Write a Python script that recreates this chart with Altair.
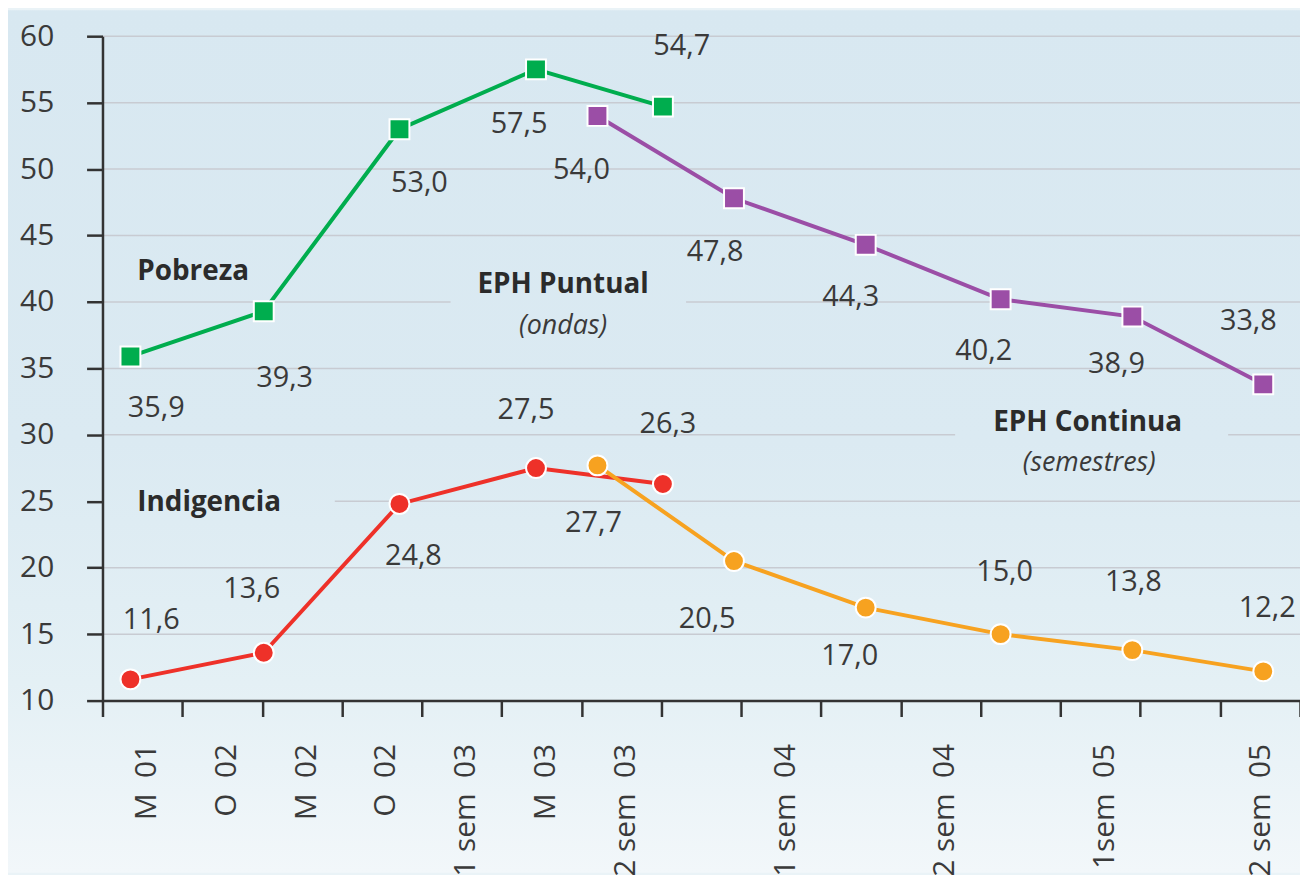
import altair as alt
import pandas as pd

# ---------------- data ----------------
# x positions in "tick-interval" units along the time axis (ticks at 0..15)
wave_x = [0.35, 2.02, 3.72, 5.43, 7.02]            # EPH Puntual (ondas)
sem_x = [6.20, 7.91, 9.56, 11.25, 12.90, 14.54]    # EPH Continua (semestres)

pobreza_puntual = [35.9, 39.3, 53.0, 57.5, 54.7]
indigencia_puntual = [11.6, 13.6, 24.8, 27.5, 26.3]
pobreza_continua = [54.0, 47.8, 44.3, 40.2, 38.9, 33.8]
indigencia_continua = [27.7, 20.5, 17.0, 15.0, 13.8, 12.2]

tick_positions = list(range(16))
y_ticks = list(range(10, 61, 5))
NB = "\u00a0"
axis_labels = ["M" + NB * 2 + "01", "O" + NB * 2 + "02", "M" + NB * 2 + "02", "O" + NB * 2 + "02",
               "1 sem" + NB * 2 + "03", "M" + NB * 2 + "03", "2 sem" + NB * 2 + "03",
               "1 sem" + NB * 2 + "04", "2 sem" + NB * 2 + "04", "1sem" + NB * 2 + "05",
               "2 sem" + NB * 2 + "05"]
axis_label_pos = [0.55, 1.55, 2.55, 3.55, 4.55, 5.55, 6.55, 8.55, 10.55, 12.55, 14.5]

# value-label placement offsets (pixels from the point)
pob_p_dx = [26, 21, 20, -17, 19]
pob_p_dy = [52, 67, 54, 55, -61]
ind_p_dx = [21, -12, 14, -10, 5]
ind_p_dy = [-60, -64, 52, -58, -60]
pob_c_dx = [-16, -19, -15, -17, -16, -15]
pob_c_dy = [54, 54, 53, 52, 48, -64]
ind_c_dx = [-4, -27, -16, 4, 1, 4]
ind_c_dy = [58, 58, 49, -62, -68, -64]

series_names = ["Pobreza puntual", "Pobreza continua", "Indigencia puntual", "Indigencia continua"]
series_colors = ["#00ad4e", "#9b4ea6", "#ee3129", "#f7a220"]
series_shapes = ["square", "square", "circle", "circle"]

# annotations
bold_left_text = ["Pobreza", "Indigencia"]
bold_left_x = [0.436, 0.436]
bold_left_y = [42.26, 24.9]
bold_center_text = ["EPH Puntual", "EPH Continua"]
bold_center_x = [5.77, 12.34]
bold_center_y = [41.29, 30.88]
ital_text = ["(ondas)", "(semestres)"]
ital_x = [5.77, 12.36]
ital_y = [38.22, 27.89]

# gridlines are interrupted behind the bold annotations: (grid value, gap start, gap end)
grid_gaps = [(40, 4.36, 7.31), (30, 10.68, 14.10), (25, 0.0, 2.91)]

# ---------------- build tables ----------------
rows = []
for name, xs, vs, dxs, dys in [
    (series_names[0], wave_x, pobreza_puntual, pob_p_dx, pob_p_dy),
    (series_names[1], sem_x, pobreza_continua, pob_c_dx, pob_c_dy),
    (series_names[2], wave_x, indigencia_puntual, ind_p_dx, ind_p_dy),
    (series_names[3], sem_x, indigencia_continua, ind_c_dx, ind_c_dy),
]:
    for x, v, dx, dy in zip(xs, vs, dxs, dys):
        rows.append({"serie": name, "x": x, "v": v, "label": f"{v:.1f}".replace(".", ","),
                     "dx": dx, "dy": dy})
df = pd.DataFrame(rows)

grid_rows = []
gap_map = {g[0]: (g[1], g[2]) for g in grid_gaps}
for gv in y_ticks[1:]:
    if gv in gap_map:
        a, b = gap_map[gv]
        if a > 0:
            grid_rows.append({"v": gv, "x": 0, "x2": a})
        grid_rows.append({"v": gv, "x": b, "x2": 15})
    else:
        grid_rows.append({"v": gv, "x": 0, "x2": 15})
grid_df = pd.DataFrame(grid_rows)

W, H = 1204, 668
PAD = {"left": 95, "top": 26, "right": 0, "bottom": 173}
FONT = "Open Sans"
TXT = "#3a3a3a"

xscale = alt.Scale(domain=[0, 15], nice=False, zero=False)
yscale = alt.Scale(domain=[10, 60], nice=False, zero=False)

all_vals = sorted(tick_positions + axis_label_pos)
label_expr = ""
for p, t in zip(axis_label_pos, axis_labels):
    label_expr += f"datum.value === {p} ? '{t}' : "
label_expr += "''"

xaxis = alt.Axis(
    values=all_vals, labelExpr=label_expr, labelAngle=270, labelAlign="right",
    labelBaseline="middle", labelFont=FONT, labelFontSize=30, labelColor=TXT,
    tickSize=16, tickWidth=2.5, tickColor="#333333",
    tickOpacity={"condition": {"test": "datum.value % 1 === 0", "value": 1}, "value": 0},
    domainColor="#333333", domainWidth=2.5, labelPadding=27,
    labelOverlap=False, labelFlush=False, grid=False, title=None, zindex=1,
)
yaxis = alt.Axis(
    values=y_ticks, labelFont=FONT, labelFontSize=30, labelColor=TXT,
    tickSize=16, tickWidth=2.5, tickColor="#333333", domainColor="#333333",
    domainWidth=2.5, labelPadding=33, grid=False, title=None, zindex=1,
)

X = alt.X("x:Q", scale=xscale, axis=xaxis)
Y = alt.Y("v:Q", scale=yscale, axis=yaxis)
color = alt.Color("serie:N", scale=alt.Scale(domain=series_names, range=series_colors), legend=None)

bg = alt.Chart(pd.DataFrame({"a": [0]})).mark_rect(
    fill=alt.Gradient(
        gradient="linear", x1=0, x2=0, y1=0, y2=1,
        stops=[alt.GradientStop(color="#d8e8f1", offset=0),
               alt.GradientStop(color="#dbeaf2", offset=0.5),
               alt.GradientStop(color="#e4f0f5", offset=0.78),
               alt.GradientStop(color="#f2f7fa", offset=1)],
    )
).encode(
    x=alt.value(-PAD["left"]), x2=alt.value(W + 10),
    y=alt.value(-PAD["top"]), y2=alt.value(H + PAD["bottom"]),
)

grid = alt.Chart(grid_df).mark_rule(color="#c8cbd2", strokeWidth=1.5).encode(
    x=X, x2="x2:Q", y=Y
)

lines = alt.Chart(df).mark_line(strokeWidth=4).encode(x=X, y=Y, color=color, detail="serie:N")

points = alt.Chart(df).mark_point(filled=True, size=400, stroke="white", strokeWidth=2, opacity=1).encode(
    x=X, y=Y, color=color,
    shape=alt.Shape("serie:N", scale=alt.Scale(domain=series_names, range=series_shapes), legend=None),
)

labels = alt.Chart(df).mark_text(
    font=FONT, fontSize=29, color=TXT, align="center", baseline="middle",
    dx=alt.ExprRef("datum.dx"), dy=alt.ExprRef("datum.dy"),
).encode(x=X, y=Y, text="label:N")

ann1 = alt.Chart(pd.DataFrame({"t": bold_left_text, "x": bold_left_x, "v": bold_left_y})).mark_text(
    font=FONT, fontSize=28, fontWeight="bold", color="#2b2b2b", align="left", baseline="middle"
).encode(x=X, y=Y, text="t:N")
ann2 = alt.Chart(pd.DataFrame({"t": bold_center_text, "x": bold_center_x, "v": bold_center_y})).mark_text(
    font=FONT, fontSize=28, fontWeight="bold", color="#2b2b2b", align="center", baseline="middle"
).encode(x=X, y=Y, text="t:N")
ann3 = alt.Chart(pd.DataFrame({"t": ital_text, "x": ital_x, "v": ital_y})).mark_text(
    font=FONT, fontSize=27, fontStyle="italic", color=TXT, align="center", baseline="middle"
).encode(x=X, y=Y, text="t:N")

chart = alt.layer(bg, grid, lines, points, labels, ann1, ann2, ann3).properties(
    width=W, height=H, autosize=alt.AutoSizeParams(type="none"), padding=PAD,
    background="#eaf3f7",
).configure_view(stroke=None)

chart.save("out.html", embed_options={"renderer": "svg", "actions": False})
